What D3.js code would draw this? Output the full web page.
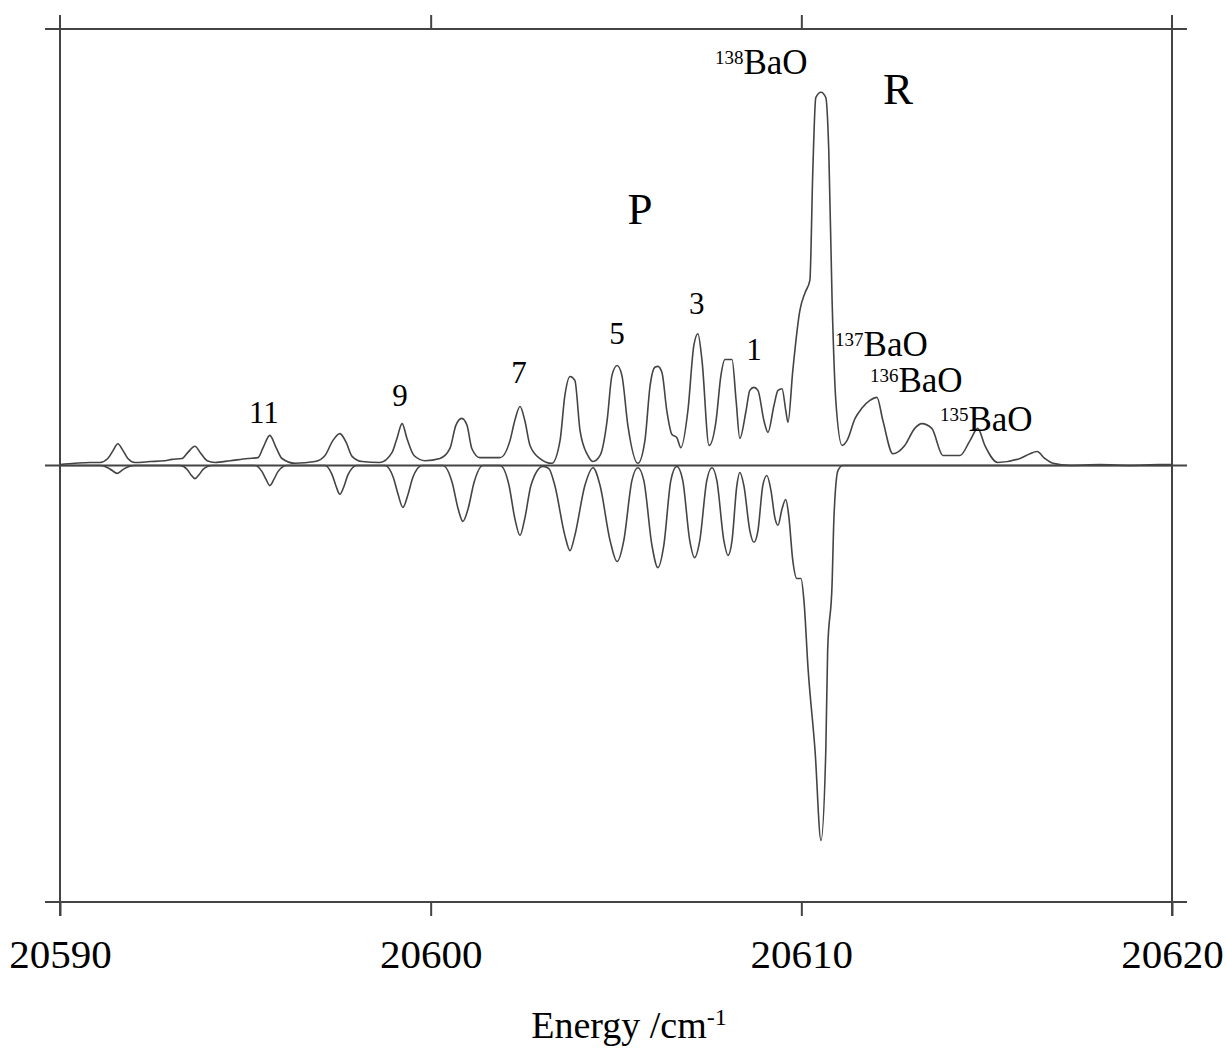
<!DOCTYPE html>
<html>
<head>
<meta charset="utf-8">
<script src="https://d3js.org/d3.v7.min.js"></script>
<style>
  body { margin: 0; background: #fff; }
  text { font-family: "Liberation Serif", "Times New Roman", serif; fill: #000; }
</style>
</head>
<body>
<svg id="chart" width="1228" height="1049"></svg>
<script>
// energy axis ticks (cm-1)
const xTicks = [20590, 20600, 20610, 20620];

// observed spectrum (upper trace), [energy, intensity]
const observed = [
  [20590.00, 0.2], [20590.40, 0.5], [20590.81, 0.7], [20591.08, 0.7], [20591.29, 1.6],
  [20591.43, 3.4], [20591.56, 5.0], [20591.70, 3.4], [20591.83, 1.6], [20592.02, 0.7],
  [20592.43, 0.9], [20592.83, 1.1], [20593.02, 1.4], [20593.29, 1.6], [20593.45, 3.0],
  [20593.64, 4.4], [20593.78, 3.0], [20593.97, 1.1], [20594.18, 0.7], [20594.59, 1.1],
  [20595.07, 1.6], [20595.34, 1.8], [20595.48, 4.1], [20595.66, 6.9], [20595.83, 4.1],
  [20595.99, 1.6], [20596.34, 0.5], [20596.88, 0.9], [20597.15, 2.3], [20597.36, 5.7],
  [20597.55, 7.3], [20597.72, 5.3], [20597.88, 2.1], [20598.15, 0.9], [20598.63, 0.7],
  [20598.96, 3.0], [20599.09, 6.2], [20599.23, 9.6], [20599.36, 6.2], [20599.55, 2.3],
  [20599.85, 1.1], [20600.25, 1.6], [20600.52, 3.9], [20600.68, 9.2], [20600.84, 10.8],
  [20600.98, 9.2], [20601.11, 3.9], [20601.33, 1.8], [20601.87, 1.8], [20602.14, 5.7],
  [20602.27, 10.3], [20602.41, 13.5], [20602.54, 10.3], [20602.68, 4.6], [20602.95, 1.6],
  [20603.27, 0.5], [20603.49, 5.7], [20603.62, 16.0], [20603.76, 20.4], [20603.89, 19.5],
  [20604.03, 8.0], [20604.24, 2.3], [20604.38, 0.9], [20604.57, 2.3], [20604.76, 10.3],
  [20604.89, 20.6], [20605.03, 22.9], [20605.16, 20.6], [20605.32, 9.2], [20605.59, 0.5],
  [20605.78, 5.7], [20605.92, 18.3], [20606.05, 22.5], [20606.13, 22.7], [20606.24, 21.3],
  [20606.37, 12.6], [20606.51, 7.1], [20606.64, 6.4], [20606.75, 4.1], [20606.94, 12.6],
  [20607.10, 27.5], [20607.21, 30.2], [20607.32, 24.1], [20607.51, 4.6], [20607.70, 10.3],
  [20607.83, 20.6], [20607.94, 24.3], [20608.13, 24.3], [20608.24, 14.9], [20608.34, 6.2],
  [20608.51, 12.6], [20608.61, 17.2], [20608.72, 17.9], [20608.83, 17.2], [20608.99, 10.3],
  [20609.10, 7.6], [20609.26, 13.7], [20609.37, 17.2], [20609.48, 17.6], [20609.58, 12.6],
  [20609.64, 9.9], [20609.77, 21.8], [20609.96, 35.5], [20610.10, 39.6], [20610.23, 42.4],
  [20610.31, 67.6], [20610.39, 84.3], [20610.53, 85.5], [20610.66, 84.3], [20610.74, 72.2],
  [20610.83, 37.8], [20610.93, 14.9], [20611.10, 4.6], [20611.23, 5.7], [20611.45, 10.8],
  [20611.63, 13.1], [20611.85, 14.9], [20612.04, 15.6], [20612.20, 10.3], [20612.47, 2.7],
  [20612.79, 4.6], [20613.06, 8.5], [20613.25, 9.6], [20613.52, 8.5], [20613.82, 2.3],
  [20614.28, 2.3], [20614.55, 5.7], [20614.76, 8.5], [20614.95, 4.6], [20615.30, 0.7],
  [20615.90, 1.6], [20616.17, 2.7], [20616.36, 3.2], [20616.57, 1.6], [20616.79, 0.5],
  [20617.25, 0.0], [20618.05, 0.2], [20618.86, 0.0], [20619.67, 0.2], [20620.00, 0.2]
];

// simulated spectrum (lower, inverted trace), [energy, intensity]
const simulated = [
  [20590.00, 0], [20591.08, 0], [20591.29, -0.5], [20591.40, -1.1], [20591.54, -1.8],
  [20591.67, -1.1], [20591.78, -0.5], [20592.02, 0], [20593.24, 0], [20593.43, -0.9],
  [20593.53, -2.1], [20593.64, -3.0], [20593.75, -2.1], [20593.86, -0.9], [20594.10, 0],
  [20595.26, 0], [20595.45, -1.4], [20595.56, -3.2], [20595.66, -4.6], [20595.77, -3.2],
  [20595.88, -1.4], [20596.12, 0], [20597.15, 0], [20597.34, -2.1], [20597.45, -4.8],
  [20597.55, -6.6], [20597.66, -4.8], [20597.77, -2.1], [20598.01, 0], [20598.77, 0],
  [20598.99, -2.7], [20599.12, -6.6], [20599.25, -9.6], [20599.39, -6.6], [20599.52, -2.7],
  [20599.77, 0], [20600.33, 0], [20600.58, -3.9], [20600.74, -9.9], [20600.87, -12.8],
  [20601.01, -9.9], [20601.17, -3.9], [20601.41, 0], [20601.87, 0], [20602.11, -4.4],
  [20602.27, -12.1], [20602.41, -16.0], [20602.54, -12.1], [20602.71, -4.4], [20603.03, -0.2],
  [20603.19, -0.7], [20603.35, -4.6], [20603.62, -16.0], [20603.76, -19.5], [20603.89, -16.0],
  [20604.16, -4.6], [20604.38, -0.5], [20604.57, -4.6], [20604.84, -17.2], [20605.03, -22.0],
  [20605.21, -17.2], [20605.43, -3.4], [20605.59, -0.5], [20605.75, -3.4], [20605.97, -18.3],
  [20606.13, -23.4], [20606.29, -18.3], [20606.48, -3.4], [20606.64, -0.2], [20606.80, -3.4],
  [20606.99, -17.2], [20607.12, -21.1], [20607.26, -17.2], [20607.45, -3.4], [20607.59, -0.5],
  [20607.72, -3.4], [20607.91, -17.2], [20608.02, -20.6], [20608.13, -17.2], [20608.26, -4.6],
  [20608.34, -1.6], [20608.45, -4.6], [20608.61, -14.9], [20608.72, -17.6], [20608.83, -14.9],
  [20608.96, -4.6], [20609.07, -2.3], [20609.18, -5.7], [20609.29, -12.1], [20609.37, -13.7],
  [20609.48, -9.9], [20609.58, -7.8], [20609.66, -11.5], [20609.77, -21.8], [20609.88, -25.9],
  [20609.99, -25.9], [20610.07, -30.9], [20610.18, -46.3], [20610.37, -65.3], [20610.53, -85.9],
  [20610.66, -65.3], [20610.71, -42.4], [20610.83, -27.0], [20610.88, -11.9], [20610.99, -1.1],
  [20611.12, 0], [20620.00, 0]
];

// rotational line numbers
const peakLabels = [
  { text: "11", x: 20595.50, y: 9.8 },
  { text: "9", x: 20599.17, y: 13.7 },
  { text: "7", x: 20602.38, y: 19.0 },
  { text: "5", x: 20605.03, y: 27.9 },
  { text: "3", x: 20607.18, y: 34.8 },
  { text: "1", x: 20608.72, y: 24.1 }
];

// branch labels
const branchLabels = [
  { text: "P", x: 20605.65, y: 55.4 },
  { text: "R", x: 20612.61, y: 82.9 }
];

// isotopologue labels (left edge, baseline)
const isotopeLabels = [
  { mass: "138", x: 20607.67, y: 89.8 },
  { mass: "137", x: 20610.91, y: 25.2 },
  { mass: "136", x: 20611.85, y: 16.8 },
  { mass: "135", x: 20613.74, y: 7.8 }
];

const svg = d3.select("#chart");
const x = d3.scaleLinear().domain([20590, 20620]).range([60, 1172]);
const y = d3.scaleLinear().domain([-100, 100]).range([902, 29]);
const ext = 15;

// frame lines
const frame = svg.append("g").attr("stroke", "#444").attr("stroke-width", 2);
[100, 0, -100].forEach(v => {
  frame.append("line")
    .attr("x1", x(20590) - ext).attr("x2", x(20620) + ext)
    .attr("y1", y(v)).attr("y2", y(v));
});
[20590, 20620].forEach(v => {
  frame.append("line")
    .attr("x1", x(v)).attr("x2", x(v))
    .attr("y1", y(100) - 14).attr("y2", y(-100) + 14);
});

// bottom axis
svg.append("g")
  .attr("transform", `translate(0,${y(-100)})`)
  .style("color", "#444")
  .call(d3.axisBottom(x).tickValues(xTicks).tickSize(14).tickFormat(d3.format("d")))
  .call(g => g.select(".domain").remove())
  .call(g => g.selectAll(".tick line").attr("stroke-width", 2))
  .call(g => g.selectAll("text").attr("y", 66).attr("dy", null)
    .style("font-size", "41px"));

// top axis
svg.append("g")
  .attr("transform", `translate(0,${y(100)})`)
  .style("color", "#444")
  .call(d3.axisTop(x).tickValues([20600, 20610]).tickSize(14).tickFormat(""))
  .call(g => g.select(".domain").remove())
  .call(g => g.selectAll(".tick line").attr("stroke-width", 2));

// axis title
const title = svg.append("text")
  .attr("x", 629).attr("y", 1038)
  .attr("text-anchor", "middle")
  .style("font-size", "38px");
title.append("tspan").text("Energy /cm");
title.append("tspan").attr("dy", -13).style("font-size", "24px").text("-1");

// traces
const line = d3.line()
  .x(d => x(d[0]))
  .y(d => y(d[1]))
  .curve(d3.curveMonotoneX);

svg.append("path").datum(observed)
  .attr("fill", "none").attr("stroke", "#444").attr("stroke-width", 1.6)
  .attr("d", line);
svg.append("path").datum(simulated)
  .attr("fill", "none").attr("stroke", "#444").attr("stroke-width", 1.6)
  .attr("d", line);

// labels
svg.selectAll("text.peak").data(peakLabels).enter().append("text")
  .attr("class", "peak")
  .attr("x", d => x(d.x)).attr("y", d => y(d.y))
  .attr("text-anchor", "middle")
  .style("font-size", "31px")
  .text(d => d.text);

svg.selectAll("text.branch").data(branchLabels).enter().append("text")
  .attr("class", "branch")
  .attr("x", d => x(d.x)).attr("y", d => y(d.y))
  .attr("text-anchor", "middle")
  .style("font-size", "45px")
  .text(d => d.text);

const iso = svg.selectAll("text.iso").data(isotopeLabels).enter().append("text")
  .attr("class", "iso")
  .attr("x", d => x(d.x)).attr("y", d => y(d.y))
  .style("font-size", "35px");
iso.append("tspan").attr("dy", -10).style("font-size", "19px").text(d => d.mass);
iso.append("tspan").attr("dy", 10).text("BaO");
</script>
</body>
</html>
